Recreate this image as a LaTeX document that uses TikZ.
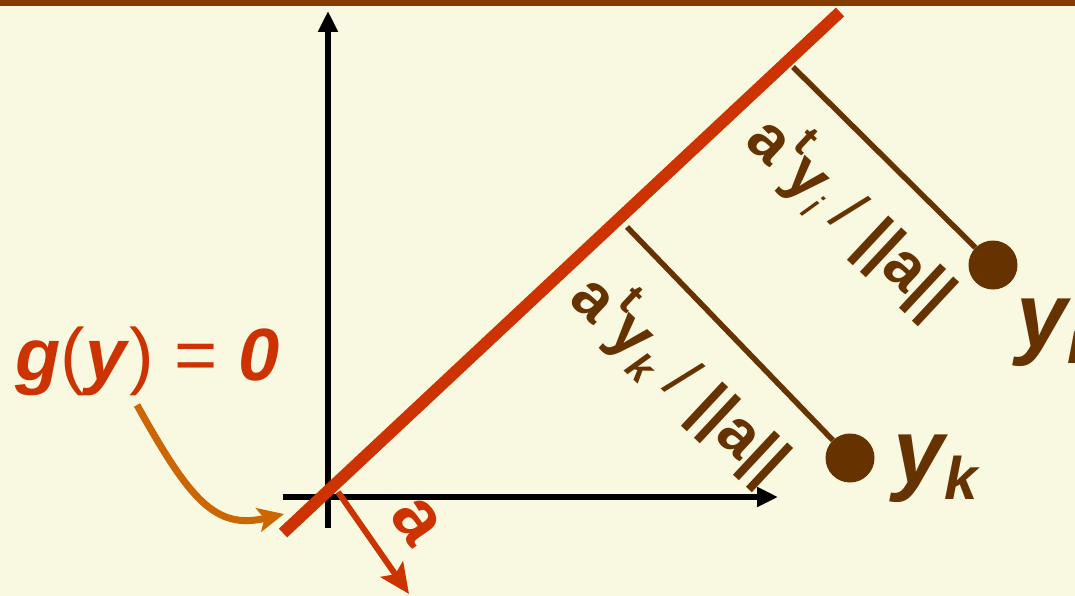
\documentclass[tikz,border=0pt]{standalone}
\usepackage{fontspec}
\setmainfont{Liberation Sans}
\usetikzlibrary{arrows.meta,positioning}
\definecolor{bgpale}{HTML}{F9F9E2}
\definecolor{topbar}{HTML}{843C00}
\definecolor{planered}{HTML}{CC3300}
\definecolor{distbrown}{HTML}{663300}
\definecolor{pointorange}{HTML}{CC6600}

\begin{document}
\begin{tikzpicture}[x=1pt,y=-1pt,>=Stealth,
 axis/.style={line width=6pt,-{Triangle[length=21pt,width=19pt]}},
 plane/.style={draw=planered,line width=12pt},
 dist/.style={draw=distbrown,line width=5.5pt},
 sample/.style={circle,fill=distbrown,inner sep=0pt,minimum size=49pt},
 distlbl/.style={text=distbrown,inner sep=0pt,rotate=-43,font=\bfseries\fontsize{64}{64}\selectfont},
 ptlbl/.style={text=distbrown,inner sep=0pt,anchor=base west,font=\bfseries\itshape\fontsize{92}{92}\selectfont}]
\useasboundingbox (0,0) rectangle (1075,596);
\fill[bgpale] (0,0) rectangle (1075,596);
\fill[topbar] (0,0) rectangle (1075,6);
\clip (0,0) rectangle (1075,596);
% axes
\coordinate (xl) at (283,497);
\coordinate (xr) at (778,497);
\coordinate (yb) at (328,528);
\coordinate (yt) at (328,11);
\draw[axis] (xl) -- (xr);
\draw[axis] (yb) -- (yt);
% separating line and its normal
\coordinate (p0) at (283,533);
\coordinate (p1) at (840,12);
\draw[plane] (p0) -- (p1);
\coordinate (nstart) at (338,492);
\coordinate (ntip) at (409,594);
\draw[planered,line width=6pt,-{Stealth[length=30pt,width=27pt,inset=6pt]}] (nstart) -- (ntip);
\node[text=planered,inner sep=0pt,rotate=-55,font=\bfseries\fontsize{74}{74}\selectfont] (alabel) at (416,521) {a};
% samples and distances
\node[sample] (yi) at (993,265) {};
\node[sample] (yk) at (850,458) {};
\coordinate (fi) at (793,67);
\coordinate (fk) at (627,227);
\draw[dist] (fi) -- (yi);
\draw[dist] (fk) -- (yk);
\node[distlbl] (di) at (853,215) {a\kern2pt\raisebox{.48em}{\fontsize{44}{44}\selectfont t}y\raisebox{-.2em}{\fontsize{40}{40}\selectfont\mdseries\itshape i} {\mdseries/} ||a||};
\node[distlbl] (dk) at (682,377) {a\kern2pt\raisebox{.48em}{\fontsize{44}{44}\selectfont t}y\raisebox{-.2em}{\fontsize{40}{40}\selectfont\itshape k} {\mdseries/} ||a||};
\node[ptlbl] (yklbl) at (893,483) {y\raisebox{-16pt}{\fontsize{60}{60}\selectfont k}};
\node[ptlbl] (yilbl) at (1016,347) {y\raisebox{-16pt}{\fontsize{60}{60}\selectfont i}};
% label of the line
\node[text=planered,anchor=base west,inner sep=0pt,font=\fontsize{74}{74}\selectfont] (gy) at (15,380) {\textbf{\textit{g}}(\textbf{\textit{y}}) = \textbf{\textit{0}}};
\coordinate (gtail) at (137,405);
\coordinate (ghead) at (284,514);
\draw[pointorange,line width=7pt,-{Stealth[length=26pt,width=24pt,inset=6pt]}] (gtail) .. controls (190,500) and (215,530) .. (ghead);
\end{tikzpicture}
\end{document}
